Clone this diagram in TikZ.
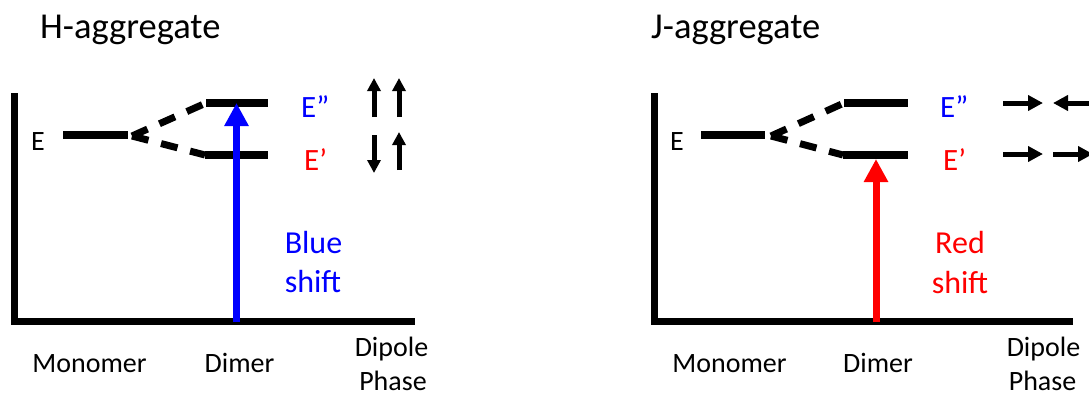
\documentclass[tikz,border=0pt]{standalone}
\usepackage{fontspec}
\setmainfont{Carlito}
\usetikzlibrary{arrows.meta}
\definecolor{shiftblue}{RGB}{0,0,255}
\definecolor{shiftred}{RGB}{255,0,0}
\begin{document}
\begin{tikzpicture}[x=1pt,y=-1pt,
  axis/.style={line width=7pt, line join=miter},
  level/.style={line width=7.5pt},
  split/.style={line width=7pt, dash pattern=on 17pt off 13pt},
  transition/.style={line width=7pt, -{Triangle[length=23pt,width=23pt]}},
  dipole/.style={line width=5pt, -{Triangle[length=13pt,width=13pt]}},
  hdipole/.style={line width=5pt, -{Triangle[length=15pt,width=15pt]}},
  title/.style={inner sep=0pt, anchor=base west, font=\fontsize{36.5}{44}\selectfont},
  lbl/.style={inner sep=0pt, anchor=base, font=\fontsize{28}{34}\selectfont},
  elbl/.style={inner sep=0pt, anchor=base west, font=\fontsize{31}{37}\selectfont},
  shiftlbl/.style={inner sep=0pt, anchor=base, font=\fontsize{32}{38}\selectfont},
]
\path[use as bounding box, clip] (0,0) rectangle (1089,394);

% ---------------- H-aggregate ----------------
\node[title] (htitle) at (40,38) {H-aggregate};

\coordinate (hTop) at (14,93);
\coordinate (hO) at (14,321);
\coordinate (hEnd) at (415,321);
\draw[axis] (hTop) -- (hO) -- (hEnd);

\coordinate (hE1) at (63,135);
\coordinate (hE2) at (128,135);
\coordinate (hV) at (132,136);
\coordinate (hU1) at (206,103);
\coordinate (hU2) at (268,103);
\coordinate (hL1) at (205,155);
\coordinate (hL2) at (268,155);
\draw[level] (hE1) -- (hE2);
\draw[level] (hU1) -- (hU2);
\draw[level] (hL1) -- (hL2);
\draw[split] (hV) -- (hU1);
\draw[split] (hV) -- (hL1);

\coordinate (hX) at (236.5,322);
\draw[transition, shiftblue] (hX) -- (hX |- hU1);

\node[lbl, anchor=base west] (hE) at (31,150) {E};
\node[elbl, text=shiftblue] (hEpp) at (301,117) {E”};
\node[elbl, text=shiftred] (hEp) at (304,170) {E’};
\node[shiftlbl, text=shiftblue] (hs1) at (313.5,253) {Blue};
\node[shiftlbl, text=shiftblue] (hs2) at (313,292) {shift};

% dipole orientations
\coordinate (hd1a) at (374,117); \coordinate (hd1b) at (374,78);
\coordinate (hd2a) at (399,117); \coordinate (hd2b) at (399,78);
\coordinate (hd3a) at (374,135); \coordinate (hd3b) at (374,173);
\coordinate (hd4a) at (399,170); \coordinate (hd4b) at (399,132);
\draw[dipole] (hd1a) -- (hd1b);
\draw[dipole] (hd2a) -- (hd2b);
\draw[dipole] (hd3a) -- (hd3b);
\draw[dipole] (hd4a) -- (hd4b);

\node[lbl] (hmono) at (89.5,372) {Monomer};
\node[lbl] (hdim) at (239.5,372) {Dimer};
\node[lbl] (hdip) at (391.5,356) {Dipole};
\node[lbl] (hpha) at (393,390) {Phase};

% ---------------- J-aggregate ----------------
\node[title] (jtitle) at (651,38) {J-aggregate};

\coordinate (jTop) at (654,93);
\coordinate (jO) at (654,321);
\coordinate (jEnd) at (1073,321);
\draw[axis] (jTop) -- (jO) -- (jEnd);

\coordinate (jE1) at (701,135);
\coordinate (jE2) at (765,135);
\coordinate (jV) at (771,136);
\coordinate (jU1) at (844,103);
\coordinate (jU2) at (908,103);
\coordinate (jL1) at (843,155);
\coordinate (jL2) at (908,155);
\draw[level] (jE1) -- (jE2);
\draw[level] (jU1) -- (jU2);
\draw[level] (jL1) -- (jL2);
\draw[split] (jV) -- (jU1);
\draw[split] (jV) -- (jL1);

\coordinate (jX) at (876,322);
\coordinate (jXt) at (876,159);
\draw[transition, shiftred] (jX) -- (jXt);

\node[lbl, anchor=base west] (jE) at (670,150) {E};
\node[elbl, text=shiftblue] (jEpp) at (940,117) {E”};
\node[elbl, text=shiftred] (jEp) at (943,170) {E’};
\node[shiftlbl, text=shiftred] (js1) at (960,253) {Red};
\node[shiftlbl, text=shiftred] (js2) at (960,293) {shift};

% dipole orientations
\coordinate (jd1a) at (1003,103); \coordinate (jd1b) at (1043,103);
\coordinate (jd2a) at (1092,103); \coordinate (jd2b) at (1053,103);
\coordinate (jd3a) at (1003,154); \coordinate (jd3b) at (1043,154);
\coordinate (jd4a) at (1053,154); \coordinate (jd4b) at (1093,154);
\draw[hdipole] (jd1a) -- (jd1b);
\draw[hdipole] (jd2a) -- (jd2b);
\draw[hdipole] (jd3a) -- (jd3b);
\draw[hdipole] (jd4a) -- (jd4b);

\node[lbl] (jmono) at (729.5,372) {Monomer};
\node[lbl] (jdim) at (878,372) {Dimer};
\node[lbl] (jdip) at (1043.5,356) {Dipole};
\node[lbl] (jpha) at (1042.5,390) {Phase};
\end{tikzpicture}
\end{document}
